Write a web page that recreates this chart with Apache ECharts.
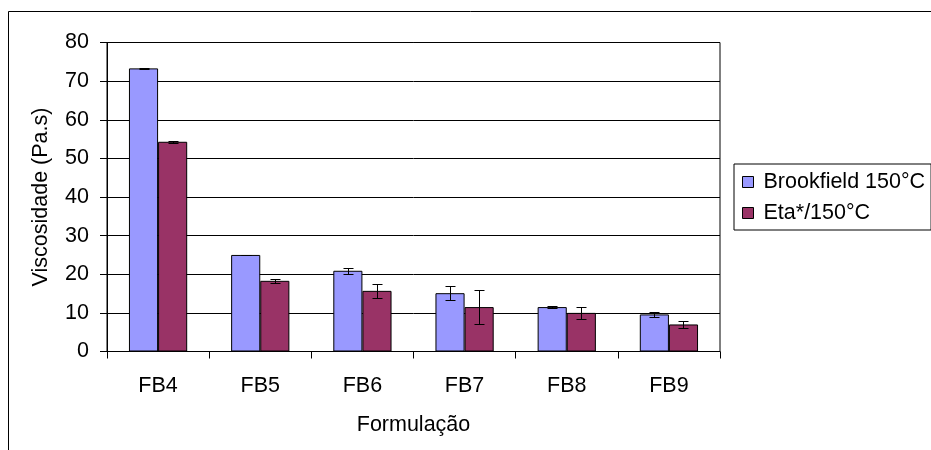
<!DOCTYPE html>
<html>
<head>
<meta charset="utf-8">
<script src="https://cdn.jsdelivr.net/npm/echarts@6/dist/echarts.min.js"></script>
<style>
  html, body { margin: 0; padding: 0; background: #fff; }
  #chart { width: 931px; height: 450px; }
</style>
</head>
<body>
<div id="chart"></div>
<script>
const categories = ['FB4', 'FB5', 'FB6', 'FB7', 'FB8', 'FB9'];
const brookfield = [73.3, 25.0, 20.9, 15.1, 11.5, 9.6];
const brookfieldErr = [0.1, 0.1, 0.8, 1.8, 0.2, 0.7];
const eta = [54.3, 18.3, 15.7, 11.5, 10.0, 7.0];
const etaErr = [0.3, 0.5, 1.8, 4.5, 1.6, 1.0];
const yTicks = [0, 10, 20, 30, 40, 50, 60, 70, 80];

const FONT = "'Liberation Sans', Arial, sans-serif";
const FS = 21.5;
const GAP = 0.43;

function errorSeries(vals, errs, side) {
  return {
    type: 'custom',
    silent: true,
    z: 10,
    data: vals.map((v, i) => [i, v, errs[i]]),
    renderItem: function (params, api) {
      const idx = api.value(0);
      const v = api.value(1);
      const e = api.value(2);
      const band = api.size([1, 0])[0];
      const off = side * band * (1 - GAP) / 4;
      const top = api.coord([idx, v + e]);
      const bot = api.coord([idx, v - e]);
      const x = Math.round(top[0] + off) + 0.5;
      const y1 = Math.round(top[1]) + 0.5;
      const y2 = Math.round(bot[1]) + 0.5;
      const hw = 5;
      const st = { stroke: '#000', lineWidth: 1 };
      return {
        type: 'group',
        children: [
          { type: 'line', shape: { x1: x, y1: y1, x2: x, y2: y2 }, style: st },
          { type: 'line', shape: { x1: x - hw, y1: y1, x2: x + hw, y2: y1 }, style: st },
          { type: 'line', shape: { x1: x - hw, y1: y2, x2: x + hw, y2: y2 }, style: st }
        ]
      };
    }
  };
}

const chart = echarts.init(document.getElementById('chart'), null, { renderer: 'canvas' });
chart.setOption({
  animation: false,
  backgroundColor: '#fff',
  textStyle: { fontFamily: FONT, color: '#000' },
  graphic: [{
    type: 'rect',
    shape: { x: 8.5, y: 11.5, width: 1200, height: 1000 },
    style: { fill: 'none', stroke: '#000', lineWidth: 1 },
    silent: true
  }],
  grid: {
    left: 107, top: 42.5, right: 211, bottom: 98.5,
    show: true, borderColor: '#000', borderWidth: 1,
    containLabel: false
  },
  legend: {
    left: 734, top: 164,
    orient: 'vertical',
    icon: 'rect',
    itemWidth: 11, itemHeight: 11,
    itemGap: 9,
    padding: [7, 6, 6, 8],
    borderColor: '#000', borderWidth: 1,
    backgroundColor: '#fff',
    textStyle: { fontFamily: FONT, fontSize: FS, color: '#000', lineHeight: 22, padding: [0, 0, 0, 5] },
    itemStyle: { borderColor: '#000', borderWidth: 1 },
    data: ['Brookfield 150°C', 'Eta*/150°C']
  },
  xAxis: {
    type: 'category',
    data: categories,
    name: 'Formulação',
    nameLocation: 'middle',
    nameGap: 63,
    nameTextStyle: { fontFamily: FONT, fontSize: FS, color: '#000' },
    axisLine: { lineStyle: { color: '#000', width: 1 } },
    axisTick: { show: true, length: 7, lineStyle: { color: '#000' } },
    axisLabel: { fontFamily: FONT, fontSize: FS, color: '#000', margin: 24 },
    splitLine: { show: false }
  },
  yAxis: {
    type: 'value',
    min: yTicks[0], max: yTicks[yTicks.length - 1], interval: 10,
    name: 'Viscosidade (Pa.s)',
    nameLocation: 'middle',
    nameGap: 55,
    nameTextStyle: { fontFamily: FONT, fontSize: FS, color: '#000' },
    axisLine: { show: true, lineStyle: { color: '#000', width: 1 } },
    axisTick: { show: true, length: 7, lineStyle: { color: '#000' } },
    axisLabel: { fontFamily: FONT, fontSize: FS, color: '#000', margin: 18 },
    splitLine: { show: true, lineStyle: { color: '#000', width: 1 } }
  },
  series: [
    {
      name: 'Brookfield 150°C', type: 'bar', data: brookfield,
      barGap: '0%', barCategoryGap: (GAP * 100) + '%',
      itemStyle: { color: '#9999FF', borderColor: '#000', borderWidth: 1 }
    },
    {
      name: 'Eta*/150°C', type: 'bar', data: eta,
      itemStyle: { color: '#993366', borderColor: '#000', borderWidth: 1 }
    },
    errorSeries(brookfield, brookfieldErr, -1),
    errorSeries(eta, etaErr, 1)
  ]
});
</script>
</body>
</html>
